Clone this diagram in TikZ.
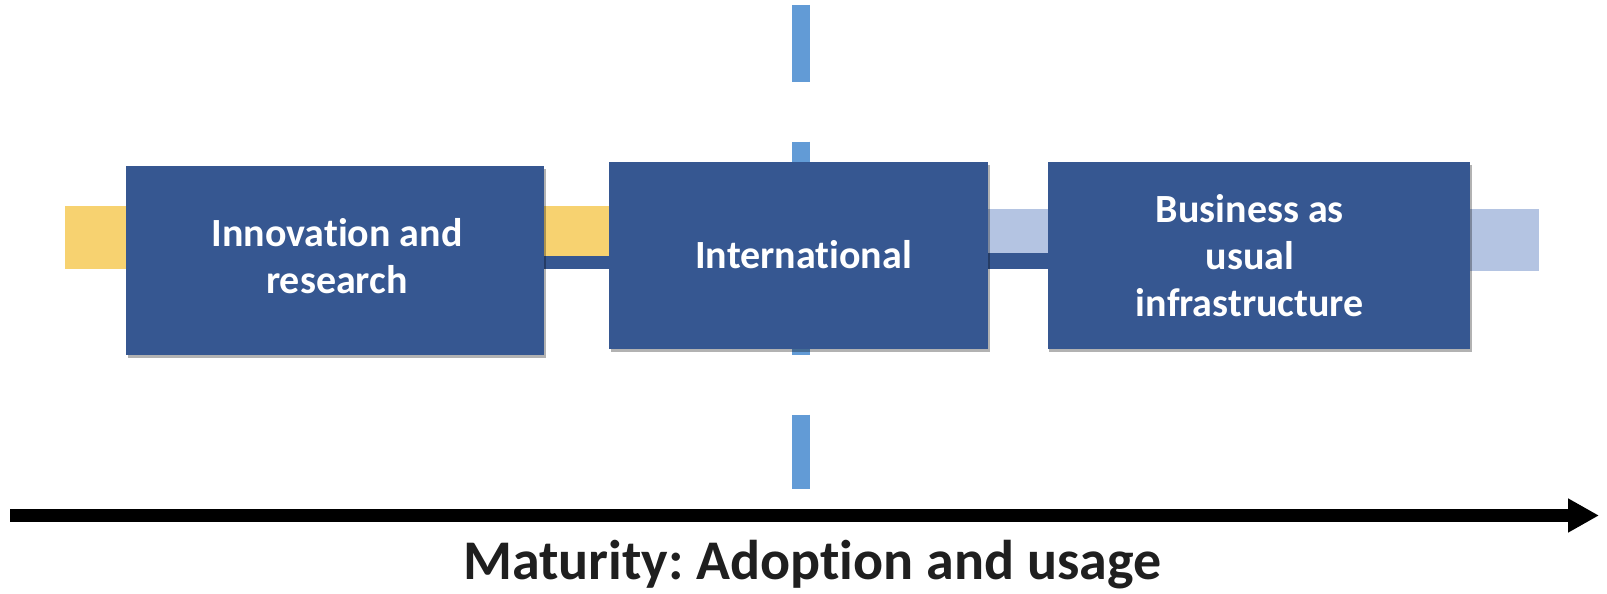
\documentclass[tikz,border=0pt]{standalone}
\usepackage{fontspec}
\setmainfont{Carlito}[Ligatures=NoCommon]
\frenchspacing
\usetikzlibrary{arrows.meta,shadows}
\definecolor{boxblue}{RGB}{54,87,145}
\definecolor{baryellow}{RGB}{247,210,112}
\definecolor{barlight}{RGB}{180,196,226}
\definecolor{dashblue}{RGB}{98,155,214}
\tikzset{
  stagebox/.style={fill=boxblue, draw=none, inner sep=0pt,
    drop shadow={shadow xshift=1.5pt, shadow yshift=-3pt, fill=black, opacity=0.3}},
  stagetext/.style={text=white, align=center, inner sep=0pt,
    font=\fontsize{40}{47}\selectfont\bfseries},
  ybar/.style={fill=baryellow, draw=none},
  lbar/.style={fill=barlight, draw=none},
  darkstrip/.style={fill=boxblue, draw=none},
  splitline/.style={draw=dashblue, line width=18pt, dash pattern=on 77pt off 59.5pt},
  axisarrow/.style={draw=black, line width=12.3pt, -{Triangle[length=31pt,width=32pt]}},
  axislabel/.style={font=\fontsize{56}{64}\selectfont\bfseries, text=black!88, inner sep=0pt}
}
\begin{document}
\begin{tikzpicture}[x=1pt,y=-1pt]
\useasboundingbox (0,0) rectangle (1607,594);
% horizontal bars
\fill[ybar] (64.6,206) rectangle (130,268.5);
\fill[darkstrip] (540,252) rectangle (612,268.5);
\fill[ybar] (540,206) rectangle (612,256);
\fill[darkstrip] (985,250) rectangle (1050,268.5);
\fill[lbar] (985,209) rectangle (1050,253);
\fill[lbar] (1466,209) rectangle (1539,270.6);
% vertical dashed split line
\coordinate (vtop) at (801,5);
\coordinate (vbot) at (801,489);
\draw[splitline] (vtop) -- (vbot);
% stage boxes
\node[stagebox, minimum width=418pt, minimum height=188.6pt] (innov) at (335,260.3) {};
\node[stagebox, minimum width=379pt, minimum height=186.5pt] (intl) at (798.5,255.3) {};
\node[stagebox, minimum width=422.5pt, minimum height=186.5pt] (bau) at (1258.8,255.3) {};
\node[stagetext] (innovtext) at ([xshift=2pt,yshift=4.5pt]innov.center) {Innovation and\\research};
\node[stagetext] (intltext) at ([xshift=5pt,yshift=1pt]intl.center) {International};
\node[stagetext] (bautext) at ([xshift=-9pt,yshift=-0.5pt]bau.center) {Business as\\usual\\infrastructure};
% axis
\coordinate (astart) at (10,515.5);
\coordinate (aend) at (1599,515.5);
\draw[axisarrow] (astart) -- (aend);
\node[axislabel, anchor=base] (alabel) at (812,579) {Maturity: Adoption and usage};
\end{tikzpicture}
\end{document}
